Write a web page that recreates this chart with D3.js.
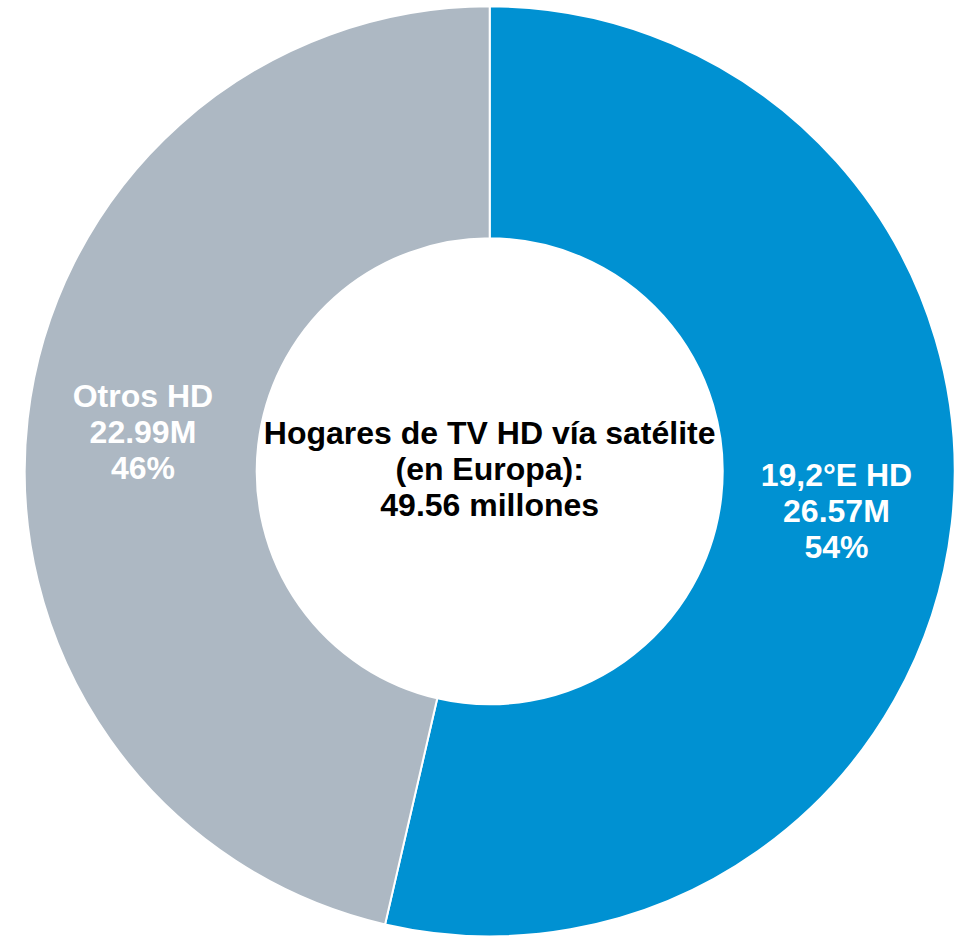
<!DOCTYPE html>
<html>
<head>
<meta charset="utf-8">
<script src="https://cdn.jsdelivr.net/npm/d3@7"></script>
<style>
  html, body { margin: 0; padding: 0; background: #ffffff; }
  svg { display: block; }
</style>
</head>
<body>
<svg id="chart" width="965" height="940"></svg>
<script>
const categories = ["19,2°E HD", "Otros HD"];
const values = [26.57, 22.99];
const valueLabels = ["26.57M", "22.99M"];
const percentLabels = ["54%", "46%"];
const colors = ["#0091d2", "#adb8c3"];
const centerLines = ["Hogares de TV HD vía satélite", "(en Europa):", "49.56 millones"];

const svg = d3.select("#chart");
const cx = 489.7, cy = 471.3;
const outerR = 465, innerR = 233;

const data = categories.map((c, i) => ({ cat: c, value: values[i], vl: valueLabels[i], pl: percentLabels[i], color: colors[i] }));

const pie = d3.pie().value(d => d.value).sort(null).startAngle(0).endAngle(2 * Math.PI);
const arc = d3.arc().innerRadius(innerR).outerRadius(outerR);

const g = svg.append("g").attr("transform", `translate(${cx},${cy})`);
const arcs = pie(data);

g.selectAll("path.slice")
  .data(arcs)
  .join("path")
  .attr("class", "slice")
  .attr("d", arc)
  .attr("fill", d => d.data.color)
  .attr("stroke", "#ffffff")
  .attr("stroke-width", 2);

const fontFamily = "'Liberation Sans', Arial, Helvetica, sans-serif";
const fs = 32;
const lh = 36;

arcs.forEach(a => {
  const [x, y] = arc.centroid(a);
  const lines = [a.data.cat, a.data.vl, a.data.pl];
  const t = g.append("text")
    .attr("text-anchor", "middle")
    .attr("font-family", fontFamily)
    .attr("font-weight", "bold")
    .attr("font-size", fs)
    .attr("fill", "#ffffff");
  lines.forEach((ln, i) => {
    t.append("tspan")
      .attr("x", x)
      .attr("y", y + (i - 1) * lh + fs * 0.36)
      .text(ln);
  });
});

const ct = g.append("text")
  .attr("text-anchor", "middle")
  .attr("font-family", fontFamily)
  .attr("font-weight", "bold")
  .attr("font-size", fs)
  .attr("fill", "#000000");
centerLines.forEach((ln, i) => {
  ct.append("tspan")
    .attr("x", 0)
    .attr("y", -3 + (i - 1) * lh + fs * 0.36)
    .text(ln);
});
</script>
</body>
</html>
